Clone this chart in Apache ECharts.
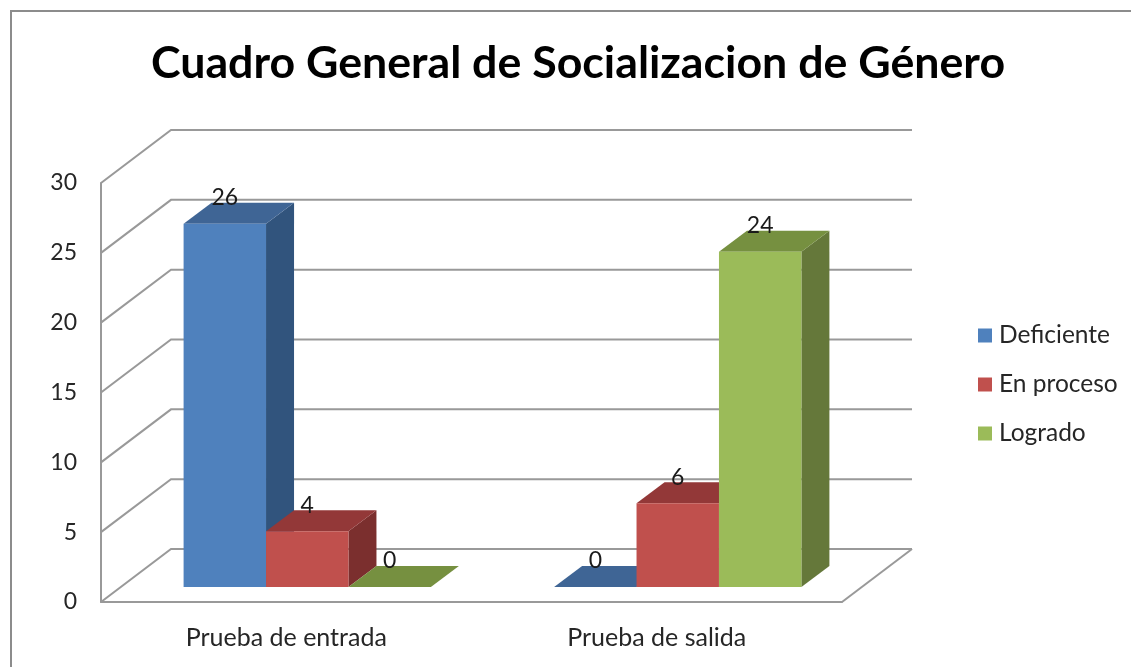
<!DOCTYPE html>
<html>

	<head>
		<meta charset="UTF-8">
		<title>Cuadro General de Socializacion de Género</title>
		<script type="text/javascript" src="https://cdn.jsdelivr.net/npm/echarts@6/dist/echarts.min.js"></script>
		<style type="text/css">
			* {
				padding: 0;
				margin: 0;
			}

			#main {
				width: 1131px;
				height: 667px;
			}
		</style>
	</head>

	<body>
		<div id="main"></div>

		<script type="text/javascript">
			var categories = ['Prueba de entrada', 'Prueba de salida'];
			var yTicks = [0, 5, 10, 15, 20, 25, 30];
			var deficiente = [26, 0];
			var enProceso = [4, 6];
			var logrado = [0, 24];

			var fontName = 'Lato';
			var textColor = '#262626';
			var wallColor = '#999999';

			// front, top and side colour of each bar series
			var blues = ['#4f81bd', '#3f6595', '#31547d'];
			var reds = ['#c0504d', '#933838', '#7b2f2e'];
			var greens = ['#9bbb59', '#769040', '#65783a'];

			// 3d look: how far the back wall and the bars are pushed back
			var wallDepth = [70, 53];
			var barDepth = [28, 21];
			var barShift = [21, 15];

			function renderWall(params, api) {
				var rect = params.coordSys;
				var y = api.coord([0, api.value(1)])[1];
				var backY = y - wallDepth[1];
				var backX = rect.x + wallDepth[0];
				var lineStyle = { stroke: wallColor, lineWidth: 2, fill: null };
				var children = [{
					type: 'polyline',
					shape: { points: [[rect.x, y], [backX, backY], [backX + rect.width, backY]] },
					style: lineStyle
				}];
				if (api.value(1) === 0) {
					children.push({
						type: 'line',
						shape: { x1: rect.x + rect.width, y1: y, x2: backX + rect.width, y2: backY },
						style: lineStyle
					});
				}
				return { type: 'group', children: children };
			}

			function barRenderer(seriesPos, colors) {
				return function(params, api) {
					var base = api.coord([api.value(0), 0]);
					var top = api.coord([api.value(0), api.value(1)]);
					var w = api.size([1, 0])[0] * 0.2225;
					var x0 = base[0] + barShift[0] + (seriesPos - 1.5) * w;
					var x1 = x0 + w;
					var y0 = base[1] - barShift[1];
					var y1 = top[1] - barShift[1];
					var dx = barDepth[0];
					var dy = barDepth[1];
					return {
						type: 'group',
						children: [{
							type: 'polygon',
							shape: { points: [[x1, y0], [x1 + dx, y0 - dy], [x1 + dx, y1 - dy], [x1, y1]] },
							style: { fill: colors[2] }
						}, {
							type: 'polygon',
							shape: { points: [[x0, y1], [x1, y1], [x1 + dx, y1 - dy], [x0 + dx, y1 - dy]] },
							style: { fill: colors[1] }
						}, {
							type: 'rect',
							shape: { x: x0, y: y1, width: w, height: y0 - y1 },
							style: { fill: colors[0] }
						}, {
							type: 'text',
							z2: 100,
							style: {
								text: String(api.value(1)),
								x: x0 + w / 2,
								y: y1 - 26,
								align: 'center',
								verticalAlign: 'middle',
								fill: '#1a1a1a',
								font: '23px ' + fontName
							}
						}]
					};
				};
			}

			function barData(values) {
				return values.map(function(v, i) {
					return [i, v];
				});
			}

			function barSeries(name, values, pos, colors) {
				return {
					name: name,
					type: 'custom',
					clip: false,
					itemStyle: { color: colors[0] },
					renderItem: barRenderer(pos, colors),
					encode: { x: 0, y: 1 },
					data: barData(values)
				};
			}

			var myChart = echarts.init(document.getElementById('main'));

			myChart.setOption({
				animation: false,
				backgroundColor: '#fff',
				title: {
					text: 'Cuadro General de Socializacion de Género',
					left: 573,
					top: 36,
					textAlign: 'center',
					textStyle: {
						fontFamily: fontName,
						fontWeight: 'bold',
						fontSize: 44.7,
						color: '#000'
					}
				},
				graphic: [{
					type: 'rect',
					silent: true,
					shape: { x: 11, y: 11, width: 1200, height: 760 },
					style: { fill: null, stroke: '#8c8c8c', lineWidth: 2 }
				}],
				legend: {
					orient: 'vertical',
					left: 973,
					top: 318,
					icon: 'rect',
					itemWidth: 14,
					itemHeight: 14,
					itemGap: 24,
					textStyle: {
						fontFamily: fontName,
						fontSize: 24.5,
						color: textColor,
						padding: [0, 0, 0, 2]
					},
					data: ['Deficiente', 'En proceso', 'Logrado']
				},
				grid: {
					left: 101,
					top: 183,
					width: 741,
					height: 419
				},
				xAxis: {
					type: 'category',
					data: categories,
					axisTick: { show: false },
					axisLine: { lineStyle: { color: wallColor, width: 2 } },
					axisLabel: {
						margin: 23,
						fontFamily: fontName,
						fontSize: 25,
						color: textColor
					}
				},
				yAxis: {
					type: 'value',
					min: 0,
					max: 30,
					interval: 5,
					splitLine: { show: false },
					axisTick: { show: false },
					axisLine: { show: true, lineStyle: { color: wallColor, width: 2 } },
					axisLabel: {
						margin: 24,
						padding: [5, 0, 0, 0],
						fontFamily: fontName,
						fontSize: 23,
						color: textColor
					}
				},
				series: [{
					name: 'walls',
					type: 'custom',
					clip: false,
					silent: true,
					renderItem: renderWall,
					encode: { x: 0, y: 1 },
					data: yTicks.map(function(t) {
						return [0, t];
					})
				},
				barSeries('Deficiente', deficiente, 0, blues),
				barSeries('En proceso', enProceso, 1, reds),
				barSeries('Logrado', logrado, 2, greens)]
			});
		</script>

	</body>

</html>
